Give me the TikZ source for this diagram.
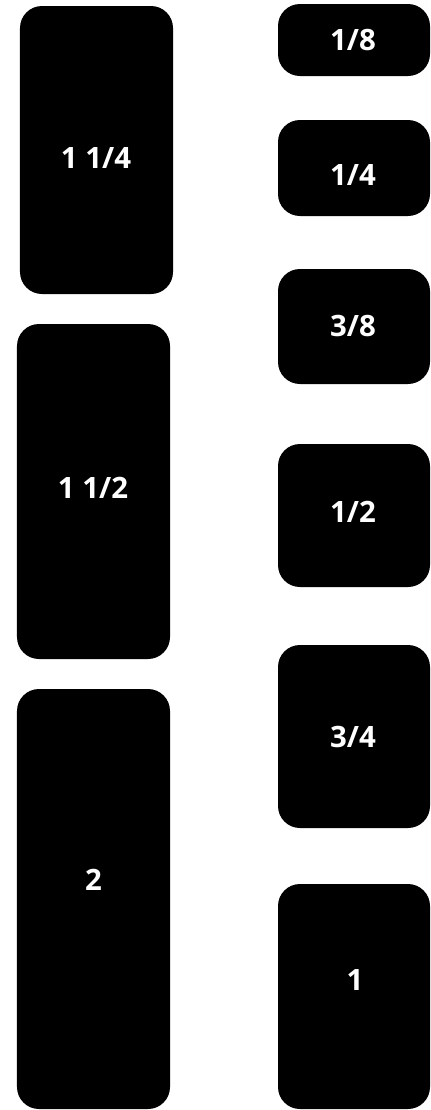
\documentclass[tikz,border=0pt]{standalone}
\usepackage{fontspec}
\setmainfont{Open Sans}
\begin{document}
\begin{tikzpicture}[x=1bp,y=-1bp,
  block/.style={fill=black,draw=none,rounded corners=22bp,inner sep=0pt},
  lbl/.style={text=white,anchor=base,inner sep=0pt,font=\fontsize{29.5}{29.5}\selectfont\bfseries}]
\useasboundingbox (0,0) rectangle (430,1110);
% left column
\node[block,minimum width=153bp,minimum height=288bp] (a) at (96.5,150) {};
\node[block,minimum width=153bp,minimum height=335bp] (b) at (93.5,491.5) {};
\node[block,minimum width=153bp,minimum height=420bp] (c) at (93.5,899) {};
% right column
\node[block,minimum width=152bp,minimum height=72bp] (r1) at (354,40) {};
\node[block,minimum width=152bp,minimum height=96bp] (r2) at (354,168) {};
\node[block,minimum width=152bp,minimum height=115bp] (r3) at (354,326.5) {};
\node[block,minimum width=152bp,minimum height=143bp] (r4) at (354,515.5) {};
\node[block,minimum width=152bp,minimum height=183bp] (r5) at (354,736.5) {};
\node[block,minimum width=152bp,minimum height=225bp] (r6) at (354,996.5) {};
% labels
\node[lbl] (ta) at (96,168.3) {1 1/4};
\node[lbl] (tb) at (93,498.3) {1 1/2};
\node[lbl] (tc) at (93.5,890) {2};
\node[lbl] (t1) at (353,50.7) {1/8};
\node[lbl] (t2) at (353,185.7) {1/4};
\node[lbl] (t3) at (353,336) {3/8};
\node[lbl] (t4) at (353,522.7) {1/2};
\node[lbl] (t5) at (353,747.7) {3/4};
\node[lbl] (t6) at (355,990) {1};
\end{tikzpicture}
\end{document}
